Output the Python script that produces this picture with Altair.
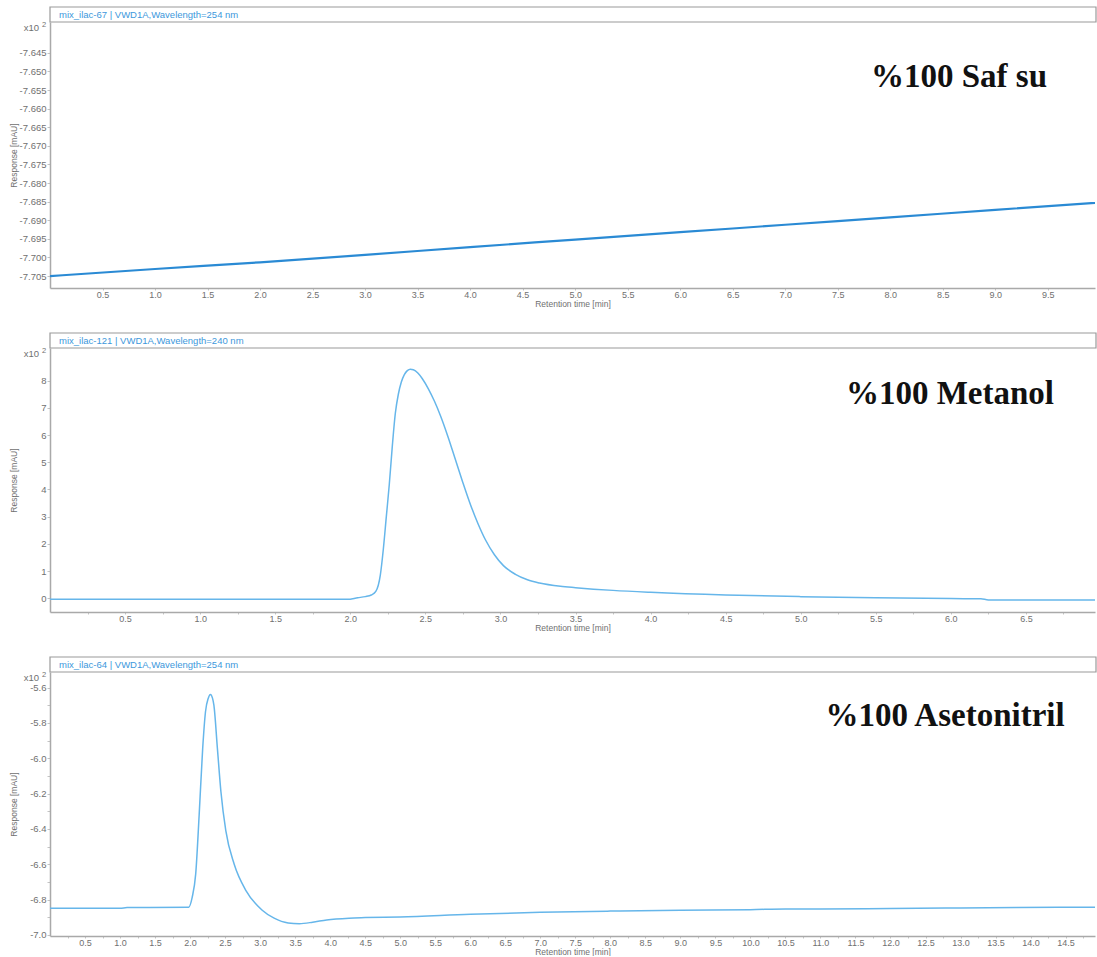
import altair as alt
import pandas as pd

# ---- Chromatogram 1: %100 Saf su (mix_ilac-67, 254 nm), response in x10^2 mAU
t_water = [0.0, 1.0, 2.0, 3.0, 4.0, 5.0, 6.0, 7.0, 8.0, 9.0, 9.95]
r_water = [-7.7050, -7.7031, -7.7013, -7.6993, -7.6972, -7.6952, -7.6932,
           -7.6912, -7.6892, -7.6872, -7.6853]

# ---- Chromatogram 2: %100 Metanol (mix_ilac-121, 240 nm)
t_meoh = [0.0, 0.5, 1.0, 1.5, 1.98, 2.05, 2.10, 2.14, 2.17, 2.20, 2.22, 2.24,
          2.26, 2.28, 2.30, 2.32, 2.34, 2.36, 2.38, 2.40, 2.42, 2.45, 2.48,
          2.52, 2.56, 2.60, 2.65, 2.70, 2.75, 2.80, 2.85, 2.90, 2.96, 3.02,
          3.10, 3.18, 3.26, 3.40, 3.50, 3.75, 4.0, 4.5, 5.0, 5.5, 6.0, 6.2,
          6.25, 6.96]
r_meoh = [-0.04, -0.04, -0.04, -0.04, -0.04, 0.02, 0.06, 0.12, 0.25, 0.85,
          1.8, 3.0, 4.2, 5.6, 6.8, 7.5, 7.95, 8.22, 8.37, 8.42, 8.40, 8.28,
          8.07, 7.7, 7.25, 6.72, 5.95, 5.1, 4.25, 3.45, 2.75, 2.15, 1.6, 1.2,
          0.88, 0.68, 0.56, 0.44, 0.39, 0.29, 0.22, 0.12, 0.06, 0.02, -0.01,
          -0.02, -0.06, -0.06]

# ---- Chromatogram 3: %100 Asetonitril (mix_ilac-64, 254 nm)
t_acn = [0.0, 1.0, 1.1, 1.98, 2.03, 2.08, 2.13, 2.18, 2.22, 2.26, 2.29, 2.32,
         2.34, 2.39, 2.44, 2.51, 2.63, 2.80, 3.03, 3.20, 3.40, 3.56, 3.75,
         3.95, 4.27, 4.5, 5.0, 6.0, 7.0, 8.0, 9.0, 10.0, 10.5, 11.0, 12.0,
         13.0, 13.8, 14.5, 14.92]
r_acn = [-6.849, -6.849, -6.845, -6.843, -6.787, -6.656, -6.318, -5.944,
         -5.737, -5.66, -5.639, -5.66, -5.70, -5.944, -6.188, -6.41, -6.60,
         -6.75, -6.86, -6.905, -6.932, -6.936, -6.928, -6.915, -6.905, -6.902,
         -6.898, -6.883, -6.872, -6.865, -6.86, -6.857, -6.853, -6.853,
         -6.850, -6.847, -6.845, -6.843, -6.843]

headers = ["mix_ilac-67 | VWD1A,Wavelength=254 nm",
           "mix_ilac-121 | VWD1A,Wavelength=240 nm",
           "mix_ilac-64 | VWD1A,Wavelength=254 nm"]
labels = ["%100 Saf su", "%100 Metanol", "%100 Asetonitril"]

# axis tick positions
water_xticks = [v / 2 for v in range(1, 20)]
meoh_xticks = [v / 4 for v in range(1, 28)]
acn_xticks = [v / 4 for v in range(1, 60)]
water_yticks = [-7.705, -7.700, -7.695, -7.690, -7.685, -7.680, -7.675,
                -7.670, -7.665, -7.660, -7.655, -7.650, -7.645]
meoh_yticks = [0, 1, 2, 3, 4, 5, 6, 7, 8]
acn_yticks = [-7.0, -6.9, -6.8, -6.7, -6.6, -6.5, -6.4, -6.3, -6.2, -6.1,
              -6.0, -5.9, -5.8, -5.7, -5.6]

W = 1045
HEAD = 15
GREY = "#a9a9a9"
TXT = "#707070"
FONT = "Liberation Sans"


def panel(t, r, xdom, ydom, xticks, yticks, xfmt, yfmt, xstep, ystep,
          height, header, label, label_x, label_y, color, stroke_w):
    df = pd.DataFrame({"t": t, "r": r})
    one = alt.Data(values=[{}])

    xlab = (f"abs(datum.value/{xstep} - round(datum.value/{xstep})) < 0.001"
            f" ? replace(format(datum.value, '{xfmt}'), '\u2212', '-') : ''")
    ylab = (f"abs(datum.value/{ystep} - round(datum.value/{ystep})) < 0.001"
            f" ? replace(format(datum.value, '{yfmt}'), '\u2212', '-') : ''")

    line = alt.Chart(df).mark_line(
        color=color, strokeWidth=stroke_w, interpolate="monotone", clip=True
    ).encode(
        x=alt.X("t:Q", scale=alt.Scale(domain=xdom, nice=False, zero=False),
                axis=alt.Axis(values=xticks, labelExpr=xlab,
                              title="Retention time [min]",
                              titleY=11, titleBaseline="top",
                              tickSize=2, labelPadding=0, labelFontSize=9)),
        y=alt.Y("r:Q", scale=alt.Scale(domain=ydom, nice=False, zero=False),
                axis=alt.Axis(values=yticks, labelExpr=ylab,
                              title="Response [mAU]",
                              titleX=-37, titleBaseline="middle")),
    )

    head_box = alt.Chart(one).mark_rect(
        fill="white", stroke="#9a9a9a", strokeWidth=1.2
    ).encode(x=alt.value(0), x2=alt.value(W + 1),
             y=alt.value(-HEAD), y2=alt.value(0))

    head_txt = alt.Chart(one).mark_text(
        text=header, align="left", baseline="middle", font=FONT,
        fontSize=9.5, color="#3d98dc"
    ).encode(x=alt.value(9), y=alt.value(-HEAD / 2))

    exp_base = alt.Chart(one).mark_text(
        text="x10", align="right", baseline="middle", font=FONT,
        fontSize=9.5, color=TXT
    ).encode(x=alt.value(-11), y=alt.value(6))
    exp_sup = alt.Chart(one).mark_text(
        text="2", align="left", baseline="middle", font=FONT,
        fontSize=7.5, color=TXT
    ).encode(x=alt.value(-8), y=alt.value(3))

    big = alt.Chart(one).mark_text(
        text=label, align="center", baseline="alphabetic",
        font="Liberation Serif", fontWeight="bold", fontSize=33,
        color="#111111"
    ).encode(x=alt.value(label_x), y=alt.value(label_y))

    return alt.layer(line, head_box, head_txt, exp_base, exp_sup, big).properties(
        width=W, height=height)


p1 = panel(t_water, r_water, [0.0, 9.95], [-7.7082, -7.6367], water_xticks,
           water_yticks, ".1f", ".3f", 0.5, 0.005, 266, headers[0], labels[0],
           909, 65, "#2a8ad4", 2.2)
p2 = panel(t_meoh, r_meoh, [0.0, 6.96], [-0.505, 9.2], meoh_xticks,
           meoh_yticks, ".1f", "d", 0.5, 1, 264, headers[1], labels[1],
           900, 56, "#66b6ea", 1.5)
p3 = panel(t_acn, r_acn, [0.0, 14.92], [-7.006, -5.512], acn_xticks,
           acn_yticks, ".1f", ".1f", 0.5, 0.2, 264, headers[2], labels[2],
           895, 54, "#66b6ea", 1.5)

chart = alt.vconcat(p1, p2, p3, spacing=60, bounds="flush").properties(
    padding={"left": 9, "top": 6, "right": 0, "bottom": 0},
    background="white",
).configure_view(stroke=None).configure_axis(
    grid=False,
    domainColor=GREY, domainWidth=1.5,
    tickColor="#c4c4c4", tickSize=3, tickWidth=1,
    labelFont=FONT, labelFontSize=9.5, labelColor=TXT, labelPadding=1,
    titleFont=FONT, titleFontSize=8.5, titleColor=TXT, titleFontWeight="normal",
)

chart.save("out.html", embed_options={"renderer": "svg", "actions": False})
